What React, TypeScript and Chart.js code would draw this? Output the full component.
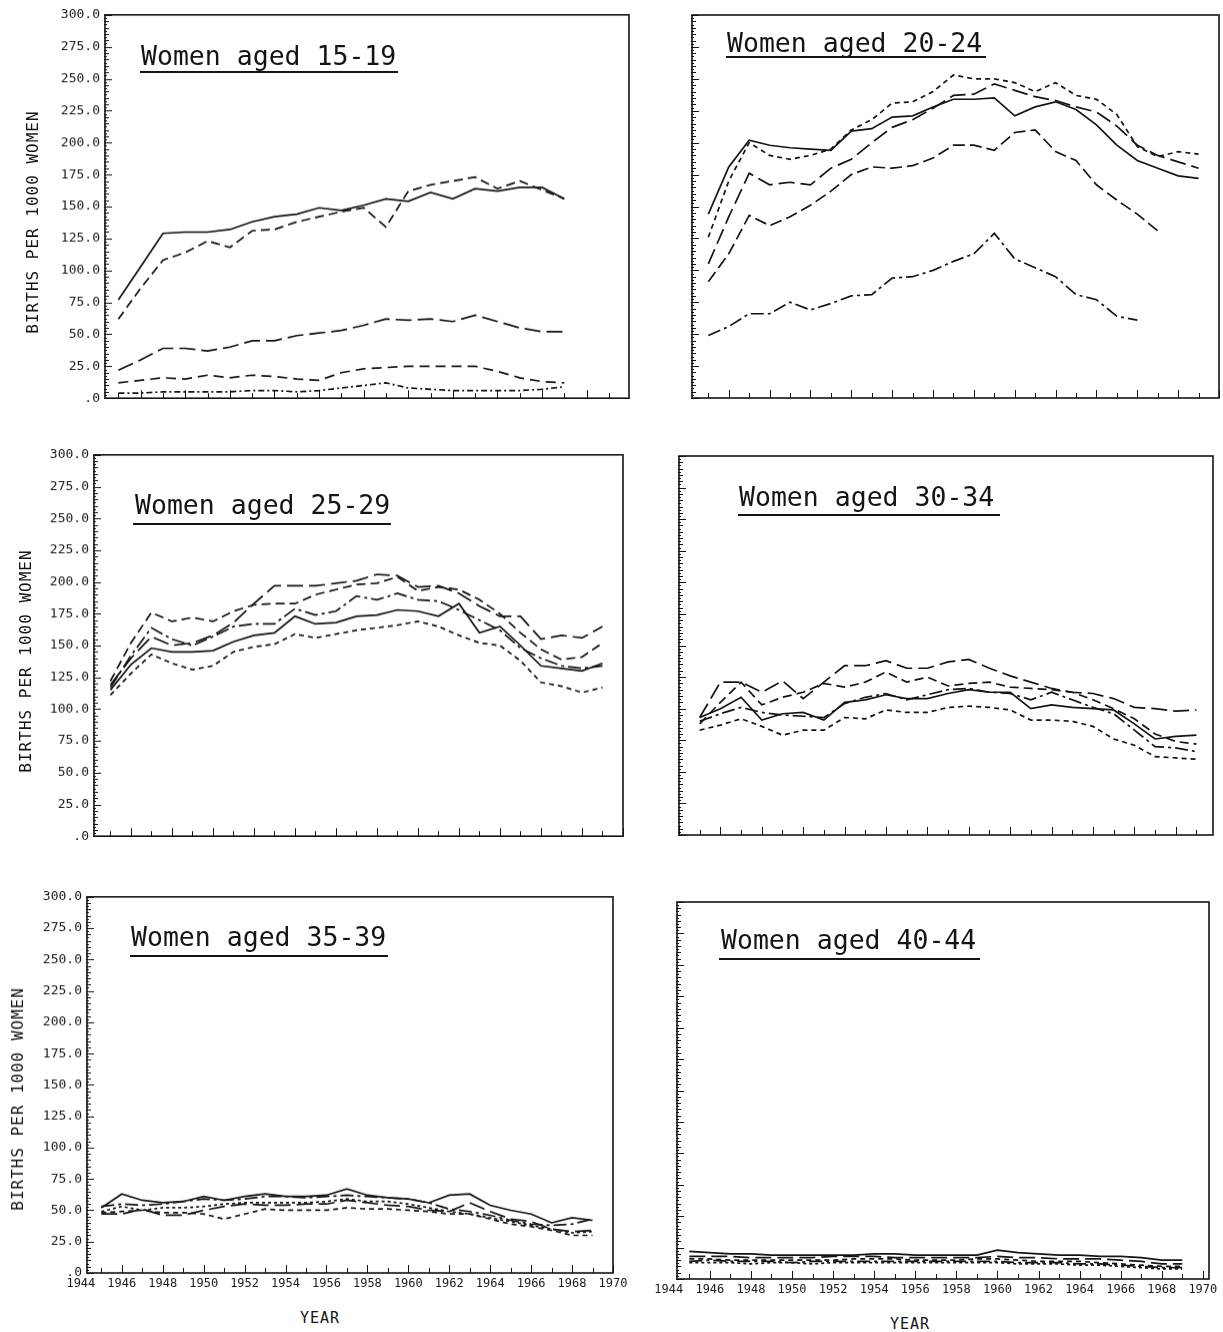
import React, { useEffect, useRef } from 'react';
import { Chart, registerables } from 'chart.js';

Chart.register(...registerables);

// ---------- categories / tick labels ----------
const YEARS_1519 = [1945, 1946, 1947, 1948, 1949, 1950, 1951, 1952, 1953, 1954, 1955, 1956, 1957, 1958, 1959, 1960, 1961, 1962, 1963, 1964, 1965];
const YEARS = [1945, 1946, 1947, 1948, 1949, 1950, 1951, 1952, 1953, 1954, 1955, 1956, 1957, 1958, 1959, 1960, 1961, 1962, 1963, 1964, 1965, 1966, 1967, 1968, 1969];
const Y_TICK_VALUES = [0, 25, 50, 75, 100, 125, 150, 175, 200, 225, 250, 275, 300];
const Y_TICK_LABELS = ['.0', '25.0', '50.0', '75.0', '100.0', '125.0', '150.0', '175.0', '200.0', '225.0', '250.0', '275.0', '300.0'];
const X_TICK_VALUES = [1944, 1946, 1948, 1950, 1952, 1954, 1956, 1958, 1960, 1962, 1964, 1966, 1968, 1970];
const X_TICK_LABELS = ['1944', '1946', '1948', '1950', '1952', '1954', '1956', '1958', '1960', '1962', '1964', '1966', '1968', '1970'];

// ---------- Women aged 15-19 ----------
const P1_SOLID = [77, 103, 129, 130, 130, 132, 138, 142, 144, 149, 147, 151, 156, 154, 161, 156, 164, 162, 165, 165, 156];
const P1_DASH = [62, 86, 108, 114, 123, 118, 131, 132, 138, 142, 146, 149, 134, 162, 167, 170, 173, 164, 170, 163, 156];
const P1_LONG = [22, 30, 39, 39, 37, 40, 45, 45, 49, 51, 53, 57, 62, 61, 62, 60, 65, 60, 55, 52, 52];
const P1_LOW = [12, 14, 16, 15, 18, 16, 18, 17, 15, 14, 20, 23, 24, 25, 25, 25, 25, 21, 16, 13, 12];
const P1_BOTTOM = [4, 4, 5, 5, 5, 5, 6, 6, 5, 6, 8, 10, 12, 8, 7, 6, 6, 6, 6, 7, 9];

// ---------- Women aged 20-24 ----------
const P2_SOLID = [144, 181, 202, 198, 196, 195, 194, 209, 211, 220, 221, 228, 234, 234, 235, 221, 228, 232, 226, 214, 198, 186, 180, 174, 172];
const P2_SHORT = [126, 170, 200, 190, 187, 190, 195, 210, 218, 231, 232, 240, 253, 250, 250, 247, 240, 247, 237, 234, 222, 197, 189, 193, 191];
const P2_LONG = [105, 142, 176, 167, 169, 167, 180, 187, 200, 212, 218, 227, 237, 238, 246, 241, 236, 233, 228, 224, 213, 198, 190, 185, 180];
const P2_MED = [91, 113, 143, 135, 142, 151, 162, 175, 181, 180, 182, 188, 198, 198, 194, 208, 210, 193, 186, 167, 155, 144, 131];
const P2_DASHDOT = [49, 56, 66, 66, 75, 69, 74, 80, 81, 94, 95, 100, 107, 113, 129, 109, 102, 95, 81, 77, 64, 61];

// ---------- Women aged 25-29 ----------
const P3_SOLID = [115, 135, 148, 145, 145, 146, 153, 158, 160, 173, 167, 168, 173, 174, 178, 177, 173, 183, 160, 165, 150, 134, 132, 130, 136];
const P3_DASHDOT = [117, 142, 164, 155, 150, 157, 165, 167, 167, 179, 174, 177, 189, 186, 191, 186, 185, 178, 170, 162, 148, 140, 134, 132, 134];
const P3_LONG = [119, 140, 157, 150, 152, 158, 168, 183, 197, 197, 197, 199, 201, 206, 205, 196, 197, 191, 181, 173, 173, 155, 158, 156, 165];
const P3_MED = [122, 152, 176, 169, 172, 169, 177, 182, 183, 183, 190, 194, 198, 199, 204, 193, 196, 194, 186, 175, 160, 147, 139, 141, 152];
const P3_SHORT = [111, 128, 143, 136, 131, 134, 145, 149, 151, 159, 156, 159, 162, 164, 166, 169, 165, 158, 152, 150, 138, 121, 118, 113, 117];

// ---------- Women aged 30-34 ----------
const P4_LONG = [93, 121, 121, 113, 122, 108, 121, 134, 134, 138, 132, 132, 137, 139, 132, 126, 121, 116, 113, 112, 108, 101, 100, 98, 99];
const P4_MED = [88, 105, 121, 103, 109, 113, 120, 117, 121, 129, 121, 125, 118, 120, 121, 117, 116, 115, 113, 107, 100, 92, 80, 74, 72];
const P4_SOLID = [93, 100, 109, 91, 96, 97, 91, 105, 107, 111, 108, 108, 112, 115, 113, 113, 100, 103, 101, 100, 99, 88, 76, 78, 79];
const P4_DASHDOT = [90, 96, 101, 97, 95, 94, 93, 104, 109, 112, 107, 111, 115, 116, 113, 112, 107, 113, 107, 101, 96, 83, 70, 69, 66];
const P4_SHORT = [83, 87, 92, 86, 79, 83, 83, 93, 92, 99, 97, 97, 101, 102, 101, 99, 91, 91, 90, 86, 76, 71, 62, 61, 60];

// ---------- Women aged 35-39 ----------
const P5_SOLID = [52, 63, 58, 56, 57, 61, 58, 61, 63, 61, 61, 62, 67, 62, 60, 59, 56, 62, 63, 54, 50, 47, 40, 44, 42];
const P5_LONG = [47, 47, 51, 46, 46, 50, 53, 55, 54, 54, 55, 55, 58, 56, 54, 53, 50, 49, 56, 49, 43, 41, 35, 33, 34];
const P5_SHORT = [48, 49, 50, 48, 48, 47, 43, 47, 51, 50, 50, 50, 52, 51, 51, 50, 49, 47, 47, 43, 39, 37, 34, 30, 30];
const P5_DASHDOT = [53, 55, 54, 55, 57, 59, 58, 59, 61, 61, 60, 61, 62, 61, 60, 59, 56, 51, 49, 46, 42, 39, 38, 39, 43];
const P5_DOT = [49, 53, 50, 52, 52, 53, 55, 56, 56, 56, 56, 57, 59, 57, 57, 55, 52, 49, 47, 44, 41, 38, 35, 32, 33];

// ---------- Women aged 40-44 ----------
const P6_SOLID = [22, 21, 20, 20, 19, 19, 19, 19, 19, 20, 20, 19, 19, 19, 19, 23, 21, 20, 19, 19, 18, 18, 17, 15, 15];
const P6_LONG = [18, 18, 18, 17, 17, 17, 17, 18, 18, 18, 17, 17, 17, 17, 17, 18, 17, 17, 16, 16, 16, 15, 14, 12, 12];
const P6_SHORT = [16, 16, 15, 15, 15, 15, 15, 15, 16, 16, 16, 15, 15, 15, 16, 16, 15, 14, 14, 14, 13, 12, 11, 10, 10];
const P6_DASHDOT = [14, 15, 14, 14, 14, 13, 14, 14, 14, 14, 14, 14, 14, 14, 14, 14, 13, 13, 13, 12, 12, 11, 10, 9, 9];
const P6_DOT = [13, 13, 13, 12, 13, 13, 12, 13, 13, 13, 13, 13, 13, 13, 13, 13, 12, 12, 12, 11, 11, 10, 9, 8, 8];

// ---------- styles ----------
const SOLID: number[] = [];
const SHORT = [5, 4];
const MED = [9, 5];
const LONG = [16, 6];
const DASHDOT = [13, 4, 3, 4];
const DOT = [3, 3];
const INK = '#141414';
const MONO = '"DejaVu Sans Mono", "Liberation Mono", monospace';

type Series = { values: number[]; dash: number[] };
type PanelCfg = {
  key: string;
  title: string;
  years: number[];
  series: Series[];
  box: { l: number; t: number; r: number; b: number };
  xMin: number;
  xMax: number;
  yLabels: boolean;
  xLabels: boolean;
  titlePos: { x: number; capTop: number };
  rule: { x1: number; x2: number; y: number };
};

const PANELS: PanelCfg[] = [
  {
    key: 'p1', title: 'Women aged 15-19', years: YEARS_1519,
    series: [
      { values: P1_SOLID, dash: SOLID }, { values: P1_DASH, dash: MED }, { values: P1_LONG, dash: LONG },
      { values: P1_LOW, dash: [10, 6] }, { values: P1_BOTTOM, dash: [6, 3, 2, 3] },
    ],
    box: { l: 105, t: 15, r: 629, b: 398 }, xMin: 1944.4, xMax: 1967.9, yLabels: true, xLabels: false,
    titlePos: { x: 141, capTop: 46 }, rule: { x1: 140, x2: 398, y: 71 },
  },
  {
    key: 'p2', title: 'Women aged 20-24', years: YEARS,
    series: [
      { values: P2_SOLID, dash: SOLID }, { values: P2_SHORT, dash: SHORT }, { values: P2_LONG, dash: LONG },
      { values: P2_MED, dash: [12, 5] }, { values: P2_DASHDOT, dash: DASHDOT },
    ],
    box: { l: 692, t: 15, r: 1219, b: 398 }, xMin: 1944.2, xMax: 1970, yLabels: false, xLabels: false,
    titlePos: { x: 727, capTop: 33 }, rule: { x1: 726, x2: 986, y: 56 },
  },
  {
    key: 'p3', title: 'Women aged 25-29', years: YEARS,
    series: [
      { values: P3_SOLID, dash: SOLID }, { values: P3_DASHDOT, dash: DASHDOT }, { values: P3_LONG, dash: LONG },
      { values: P3_MED, dash: MED }, { values: P3_SHORT, dash: SHORT },
    ],
    box: { l: 94, t: 455, r: 623, b: 836 }, xMin: 1944.2, xMax: 1970, yLabels: true, xLabels: false,
    titlePos: { x: 135, capTop: 495 }, rule: { x1: 133, x2: 391, y: 523 },
  },
  {
    key: 'p4', title: 'Women aged 30-34', years: YEARS,
    series: [
      { values: P4_LONG, dash: LONG }, { values: P4_MED, dash: MED }, { values: P4_SOLID, dash: SOLID },
      { values: P4_DASHDOT, dash: DASHDOT }, { values: P4_SHORT, dash: SHORT },
    ],
    box: { l: 679, t: 456, r: 1213, b: 835 }, xMin: 1944, xMax: 1969.8, yLabels: false, xLabels: false,
    titlePos: { x: 739, capTop: 487 }, rule: { x1: 738, x2: 1000, y: 514 },
  },
  {
    key: 'p5', title: 'Women aged 35-39', years: YEARS,
    series: [
      { values: P5_SOLID, dash: SOLID }, { values: P5_LONG, dash: LONG }, { values: P5_SHORT, dash: SHORT },
      { values: P5_DASHDOT, dash: DASHDOT }, { values: P5_DOT, dash: DOT },
    ],
    box: { l: 87, t: 897, r: 613, b: 1273 }, xMin: 1944.3, xMax: 1970, yLabels: true, xLabels: true,
    titlePos: { x: 131, capTop: 927 }, rule: { x1: 130, x2: 388, y: 955 },
  },
  {
    key: 'p6', title: 'Women aged 40-44', years: YEARS,
    series: [
      { values: P6_SOLID, dash: SOLID }, { values: P6_LONG, dash: LONG }, { values: P6_SHORT, dash: SHORT },
      { values: P6_DASHDOT, dash: DASHDOT }, { values: P6_DOT, dash: DOT },
    ],
    box: { l: 677, t: 902, r: 1209, b: 1279 }, xMin: 1944.4, xMax: 1970.3, yLabels: false, xLabels: true,
    titlePos: { x: 721, capTop: 930 }, rule: { x1: 719, x2: 980, y: 958 },
  },
];

// Frame + inward tick marks drawn from the chart's own scales
const framePlugin = {
  id: 'frameTicks',
  afterDraw(chart: any) {
    const { ctx, chartArea: a, scales } = chart;
    const xs = scales.x;
    const ys = scales.y;
    ctx.save();
    ctx.strokeStyle = INK;
    ctx.lineWidth = 1.6;
    ctx.setLineDash([]);
    ctx.strokeRect(a.left, a.top, a.right - a.left, a.bottom - a.top);
    ctx.lineWidth = 1;
    for (let i = 0; i <= 120; i++) {
      const v = i * 2.5;
      const y = Math.round(ys.getPixelForValue(v)) + 0.5;
      const len = i % 10 === 0 ? 7 : (i % 2 === 0 ? 4 : 2);
      ctx.beginPath();
      ctx.moveTo(a.left - 1, y);
      ctx.lineTo(a.left + len, y);
      ctx.stroke();
    }
    for (let yr = Math.ceil(xs.min); yr <= Math.floor(xs.max); yr++) {
      const x = Math.round(xs.getPixelForValue(yr)) + 0.5;
      const len = yr % 2 === 0 ? 8 : 5;
      ctx.beginPath();
      ctx.moveTo(x, a.bottom);
      ctx.lineTo(x, a.bottom - len);
      ctx.stroke();
    }
    ctx.restore();
  },
};

function Panel({ cfg }: { cfg: PanelCfg }) {
  const ref = useRef<HTMLCanvasElement>(null);

  useEffect(() => {
    const canvas = ref.current;
    if (!canvas) return;
    const padTop = 12;
    const padRight = 26;
    const padBottom = 4;
    const yw = cfg.yLabels ? cfg.box.l : 30;
    const xh = cfg.xLabels ? 22 : 6;
    const boxW = cfg.box.r - cfg.box.l;
    const boxH = cfg.box.b - cfg.box.t;
    let W = yw + boxW + padRight;
    let H = padTop + boxH + xh + padBottom;

    const build = () => ({
      type: 'line' as const,
      data: {
        datasets: cfg.series.map((s, si) => ({
          label: 'series ' + (si + 1),
          data: s.values.map((v, i) => ({ x: cfg.years[i], y: v })),
          borderColor: INK,
          borderWidth: 1.7,
          borderDash: s.dash,
          pointRadius: 0,
          tension: 0,
          fill: false,
        })),
      },
      options: {
        responsive: false,
        maintainAspectRatio: false,
        animation: false as const,
        layout: { padding: { top: padTop, right: padRight, bottom: padBottom, left: 0 } },
        plugins: { legend: { display: false }, tooltip: { enabled: false }, title: { display: false } },
        scales: {
          x: {
            type: 'linear' as const,
            min: cfg.xMin,
            max: cfg.xMax,
            grid: { display: false, drawTicks: false },
            border: { display: false },
            afterBuildTicks: (s: any) => { s.ticks = X_TICK_VALUES.map((v) => ({ value: v })); },
            afterFit: (s: any) => { s.height = xh; },
            ticks: {
              display: cfg.xLabels,
              autoSkip: false,
              maxRotation: 0,
              padding: 4,
              color: '#1a1a1a',
              font: { family: MONO, size: 12 },
              callback: (v: any) => {
                const i = X_TICK_VALUES.indexOf(Number(v));
                return i >= 0 ? X_TICK_LABELS[i] : '';
              },
            },
          },
          y: {
            type: 'linear' as const,
            min: 0,
            max: 300,
            grid: { display: false, drawTicks: false },
            border: { display: false },
            afterBuildTicks: (s: any) => { s.ticks = Y_TICK_VALUES.map((v) => ({ value: v })); },
            afterFit: (s: any) => { s.width = yw; },
            ticks: {
              display: cfg.yLabels,
              padding: 5,
              color: '#1a1a1a',
              font: { family: MONO, size: 13 },
              callback: (v: any) => {
                const i = Y_TICK_VALUES.indexOf(Number(v));
                return i >= 0 ? Y_TICK_LABELS[i] : '';
              },
            },
          },
        },
      },
      plugins: [framePlugin],
    });

    const make = () => {
      canvas.width = W;
      canvas.height = H;
      canvas.style.width = W + 'px';
      canvas.style.height = H + 'px';
      return new Chart(canvas, build() as any);
    };

    let chart = make();
    let ca = chart.chartArea;
    const dw = boxW - (ca.right - ca.left);
    const dh = boxH - (ca.bottom - ca.top);
    if (Math.abs(dw) > 0.5 || Math.abs(dh) > 0.5) {
      chart.destroy();
      W += dw;
      H += dh;
      chart = make();
      ca = chart.chartArea;
    }
    canvas.style.left = cfg.box.l - ca.left + 'px';
    canvas.style.top = cfg.box.t - ca.top + 'px';

    return () => { chart.destroy(); };
  }, [cfg]);

  const titleSize = 26.5;
  return (
    <>
      <canvas ref={ref} style={{ position: 'absolute', left: 0, top: 0 }} />
      <div
        style={{
          position: 'absolute',
          left: cfg.titlePos.x,
          top: cfg.titlePos.capTop - 3,
          fontFamily: MONO,
          fontSize: titleSize,
          lineHeight: titleSize + 'px',
          color: INK,
          whiteSpace: 'nowrap',
        }}
      >
        {cfg.title}
      </div>
      <div
        style={{
          position: 'absolute',
          left: cfg.rule.x1,
          top: cfg.rule.y,
          width: cfg.rule.x2 - cfg.rule.x1,
          height: 2,
          background: INK,
        }}
      />
    </>
  );
}

const Y_TITLE = 'BIRTHS PER 1000 WOMEN';
const Y_TITLE_POS = [{ x: 33, y: 222 }, { x: 26, y: 661 }, { x: 18, y: 1099 }];
const X_TITLE = 'YEAR';
const X_TITLE_POS = [{ x: 320, y: 1318 }, { x: 910, y: 1324 }];

export default function App() {
  return (
    <div style={{ position: 'absolute', left: 0, top: 0, width: 1223, height: 1332, background: '#fff', overflow: 'hidden' }}>
      {PANELS.map((p) => <Panel key={p.key} cfg={p} />)}
      {Y_TITLE_POS.map((p, i) => (
        <div
          key={'yt' + i}
          style={{
            position: 'absolute',
            left: p.x,
            top: p.y,
            transform: 'translate(-50%, -50%) rotate(-90deg)',
            fontFamily: MONO,
            fontSize: 16,
            letterSpacing: '1px',
            whiteSpace: 'nowrap',
            color: INK,
            lineHeight: '16px',
          }}
        >
          {Y_TITLE}
        </div>
      ))}
      {X_TITLE_POS.map((p, i) => (
        <div
          key={'xt' + i}
          style={{
            position: 'absolute',
            left: p.x,
            top: p.y,
            transform: 'translate(-50%, -50%)',
            fontFamily: MONO,
            fontSize: 15,
            letterSpacing: '1px',
            whiteSpace: 'nowrap',
            color: INK,
            lineHeight: '15px',
          }}
        >
          {X_TITLE}
        </div>
      ))}
    </div>
  );
}
